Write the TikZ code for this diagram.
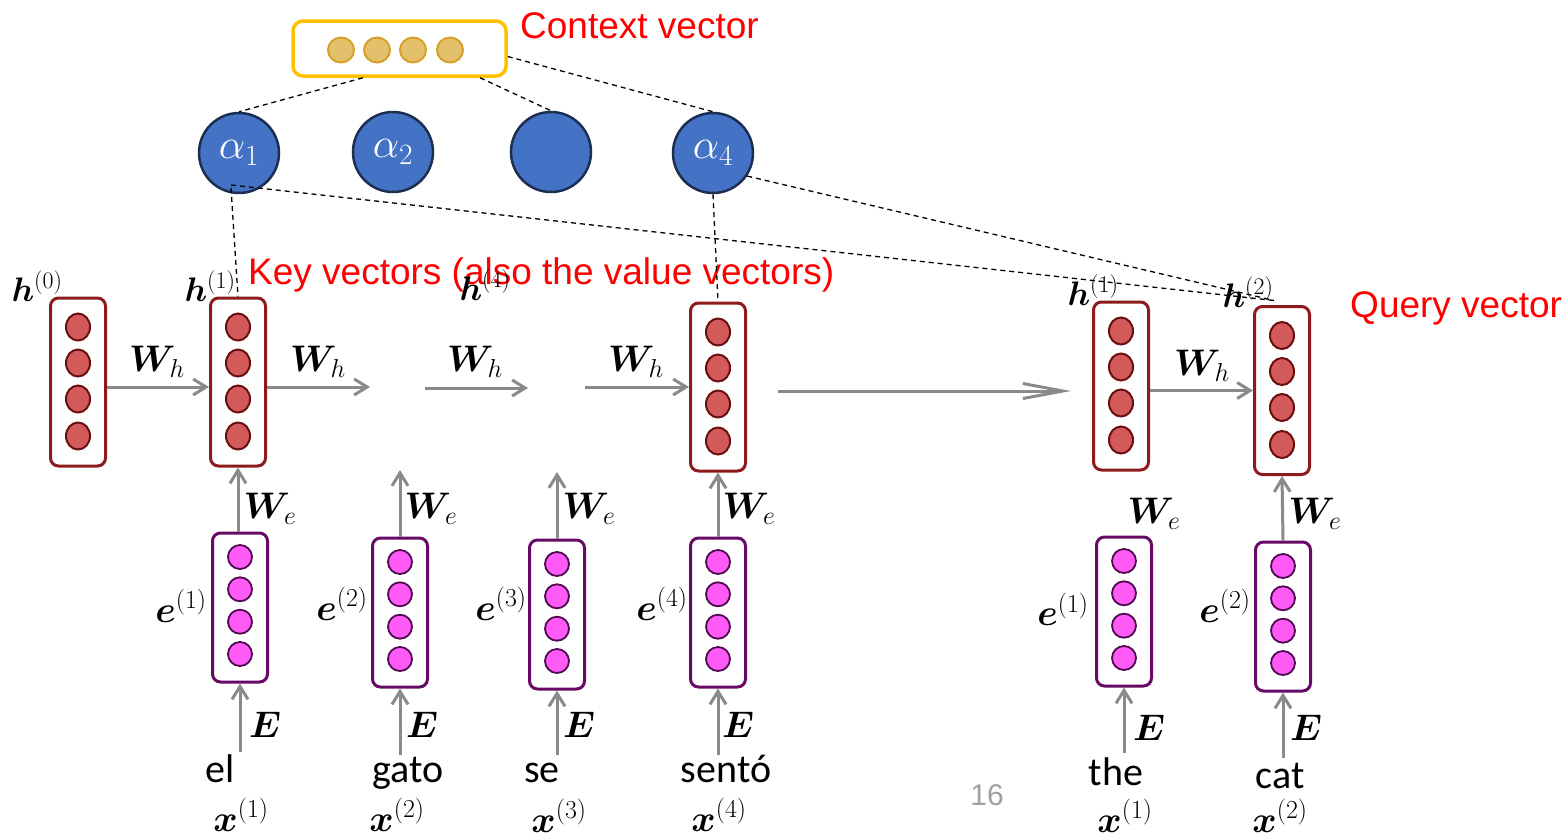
\documentclass[tikz,border=0pt]{standalone}
\usepackage{fix-cm}
\usepackage{bm}
\usepackage{fontspec}
\newfontfamily\labelfont{Liberation Sans}
\newfontfamily\wordfont{Carlito}
\usetikzlibrary{arrows.meta,shapes.geometric}

\definecolor{hedge}{HTML}{8C1C1C}
\definecolor{hfill}{HTML}{D35A5A}
\definecolor{hring}{HTML}{6A0E0E}
\definecolor{eedge}{HTML}{660A66}
\definecolor{efill}{HTML}{FF5AF5}
\definecolor{ering}{HTML}{4E0A4E}
\definecolor{ablue}{HTML}{4472C4}
\definecolor{aring}{HTML}{1C2E52}
\definecolor{cedge}{HTML}{FFC000}
\definecolor{cfill}{HTML}{E3C06C}
\definecolor{cring}{HTML}{D6A02A}
\definecolor{arrgray}{HTML}{8A8A8A}
\definecolor{pagegray}{HTML}{A0A0A0}

\tikzset{
  hbox/.style={rectangle, draw=hedge, fill=white, line width=3pt, rounded corners=8pt,
    minimum width=55pt, minimum height=168pt, inner sep=0pt},
  hdot/.style={ellipse, draw=hring, fill=hfill, line width=2pt,
    minimum width=24pt, minimum height=27pt, inner sep=0pt},
  ebox/.style={rectangle, draw=eedge, fill=white, line width=3pt, rounded corners=8pt,
    minimum width=55pt, minimum height=149pt, inner sep=0pt},
  edot/.style={circle, draw=ering, fill=efill, line width=1.8pt,
    minimum size=24pt, inner sep=0pt},
  attn/.style={circle, draw=aring, fill=ablue, line width=2.5pt, minimum size=80pt,
    inner sep=0pt, text=white, font=\fontsize{42}{48}\selectfont},
  ctxbox/.style={rectangle, draw=cedge, fill=white, line width=3.5pt, rounded corners=10pt,
    minimum width=213pt, minimum height=55pt, inner sep=0pt},
  cdot/.style={ellipse, draw=cring, fill=cfill, line width=2pt,
    minimum width=26pt, minimum height=25pt, inner sep=0pt},
  arr/.style={draw=arrgray, line width=3pt, -{Straight Barb[length=13pt,width=16pt]}},
  longarr/.style={draw=arrgray, line width=3pt, -{Straight Barb[length=40pt,width=15pt]}},
  dashlink/.style={draw=black, line width=1.3pt, dash pattern=on 5pt off 4pt},
  redlab/.style={text=red, font=\labelfont\fontsize{37}{42}\selectfont, inner sep=0pt},
  mlab/.style={font=\fontsize{37}{42}\selectfont, inner sep=0pt},
  hlab/.style={font=\fontsize{34}{40}\selectfont, inner sep=0pt},
  word/.style={font=\wordfont\fontsize{40}{46}\selectfont, inner sep=0pt, anchor=base},
}

\begin{document}
\begin{tikzpicture}[x=1pt,y=-1pt]
\useasboundingbox (0,0) rectangle (1568,839);

% context vector
\node[ctxbox] (ctx) at (399.5,48.5) {};
\foreach \k/\cx in {1/341,2/377,3/413,4/450}
  \node[cdot] (ctx-\k) at (\cx,50) {};
\node[redlab, anchor=base west] (ctxlab) at (520,38) {Context vector};

% attention weights
\node[attn] (a1) at (239,153) {$\alpha_1$};
\node[attn] (a2) at (393,152) {$\alpha_2$};
\node[attn] (a3) at (551,152) {};
\node[attn] (a4) at (713,153) {$\alpha_4$};

% hidden states
\foreach \nm/\cx/\cy in {h0/78/382, h1/238/382, h4/718/387, dh1/1121/386, dh2/1282/390.5}{
  \node[hbox] (\nm) at (\cx,\cy) {};
  \foreach \k/\off in {1/-55,2/-19,3/17,4/54}
    \node[hdot] (\nm-\k) at (\cx,\cy+\off) {};
}

% embeddings
\foreach \nm/\cx/\cy in {e1/240/607.5, e2/400/612.5, e3/557/614.5, e4/718/612.5, de1/1124/611.5, de2/1283/616.5}{
  \node[ebox] (\nm) at (\cx,\cy) {};
  \foreach \k/\off in {1/-50.5,2/-18.2,3/14.2,4/46.5}
    \node[edot] (\nm-\k) at (\cx,\cy+\off) {};
}

% annotations
\node[redlab, anchor=base west] (keylab) at (248,284) {Key vectors (also the value vectors)};
\node[redlab, anchor=base west] (qlab) at (1350,317) {Query vector};

% state labels
\node[hlab] (lh0) at (37,286) {$\bm{h}^{(0)}$};
\node[hlab] (lh1) at (210,286) {$\bm{h}^{(1)}$};
\node[hlab] (lh4) at (485,285) {$\bm{h}^{(4)}$};
\node[hlab] (ldh1) at (1093,290) {$\bm{h}^{(1)}$};
\node[hlab] (ldh2) at (1248,292) {$\bm{h}^{(2)}$};

% recurrent connections
\coordinate (gapA) at (370,387);
\coordinate (gapB) at (425,388);
\coordinate (gapC) at (528,388);
\coordinate (gapD) at (585,387);
\coordinate (gapE) at (778,391);
\draw[arr] ([yshift=-5pt]h0.east) -- ([yshift=-5pt]h1.west);
\draw[arr] ([yshift=-5pt]h1.east) -- (gapA);
\draw[arr] (gapB) -- (gapC);
\draw[arr] (gapD) -- (h4.west);
\draw[longarr] (gapE) -- ([xshift=-21pt,yshift=-5pt]dh1.west);
\draw[arr] (dh1.east |- dh2.west) -- (dh2.west);

\node[mlab] (wh1) at (157,362) {$\bm{W}_h$};
\node[mlab] (wh2) at (318,362) {$\bm{W}_h$};
\node[mlab] (wh3) at (475,362) {$\bm{W}_h$};
\node[mlab] (wh4) at (636,362) {$\bm{W}_h$};
\node[mlab] (wh5) at (1202,366) {$\bm{W}_h$};

% embedding to state
\coordinate (up2) at (400,470);
\coordinate (up3) at (557,472);
\draw[arr] (h1.south |- e1.north) -- (h1.south);
\draw[arr] (e2.north) -- (up2);
\draw[arr] (e3.north) -- (up3);
\draw[arr] (e4.north) -- (h4.south);
\draw[arr] (de2.north) -- (dh2.south);

\node[mlab] (we1) at (270,509) {$\bm{W}_e$};
\node[mlab] (we2) at (431,509) {$\bm{W}_e$};
\node[mlab] (we3) at (589,509) {$\bm{W}_e$};
\node[mlab] (we4) at (749,509) {$\bm{W}_e$};
\node[mlab] (we5) at (1154,514) {$\bm{W}_e$};
\node[mlab] (we6) at (1315,514) {$\bm{W}_e$};

\node[mlab] (le1) at (181,606) {$\bm{e}^{(1)}$};
\node[mlab] (le2) at (342,604) {$\bm{e}^{(2)}$};
\node[mlab] (le3) at (501,604) {$\bm{e}^{(3)}$};
\node[mlab] (le4) at (662,604) {$\bm{e}^{(4)}$};
\node[mlab] (lde1) at (1063,609) {$\bm{e}^{(1)}$};
\node[mlab] (lde2) at (1225,606) {$\bm{e}^{(2)}$};

% words and embedding lookups
\node[word] (w1) at (220,782) {el};
\node[word] (w2) at (408,782) {gato};
\node[word] (w3) at (542,782) {se};
\node[word] (w4) at (726,782) {sentó};
\node[word] (dw1) at (1116,785) {the};
\node[word] (dw2) at (1280,788) {cat};

\coordinate (s1) at (240,752);
\coordinate (s2) at (400,755);
\coordinate (s3) at (557,755);
\coordinate (s4) at (718,755);
\coordinate (ds1) at (1124,753);
\coordinate (ds2) at (1283,758);
\draw[arr] (s1) -- (e1.south);
\draw[arr] (s2) -- (e2.south);
\draw[arr] (s3) -- (e3.south);
\draw[arr] (s4) -- (e4.south);
\draw[arr] (ds1) -- (de1.south);
\draw[arr] (ds2) -- (de2.south);

\node[mlab] (E1) at (265,725) {$\bm{E}$};
\node[mlab] (E2) at (422,725) {$\bm{E}$};
\node[mlab] (E3) at (579,725) {$\bm{E}$};
\node[mlab] (E4) at (738,725) {$\bm{E}$};
\node[mlab] (dE1) at (1149,728) {$\bm{E}$};
\node[mlab] (dE2) at (1306,728) {$\bm{E}$};

\node[mlab, anchor=base] (x1) at (241,831) {$\bm{x}^{(1)}$};
\node[mlab, anchor=base] (x2) at (397,831) {$\bm{x}^{(2)}$};
\node[mlab, anchor=base] (x3) at (559,832) {$\bm{x}^{(3)}$};
\node[mlab, anchor=base] (x4) at (719,831) {$\bm{x}^{(4)}$};
\node[mlab, anchor=base] (dx1) at (1125,832) {$\bm{x}^{(1)}$};
\node[mlab, anchor=base] (dx2) at (1280,832) {$\bm{x}^{(2)}$};

\node[anchor=base, inner sep=0pt, text=pagegray, font=\labelfont\fontsize{30}{34}\selectfont] (pg) at (987,805) {16};

% attention links
\draw[dashlink] ([xshift=-36.5pt]ctx.south) -- (a1.north);
\draw[dashlink] ([xshift=80.5pt]ctx.south) -- (a3.north);
\draw[dashlink] ([yshift=-8pt]ctx.east) -- (a4.north);
\draw[dashlink] ([xshift=-8pt,yshift=-35pt]a1.center) -- (h1.north);
\draw[dashlink] (a4.south) -- (h4.north);
\draw[dashlink] ([xshift=-8pt,yshift=-32pt]a1.center) -- ([xshift=-8pt,yshift=4.5pt]dh2.north);
\draw[dashlink] (a4.-34) -- ([xshift=-8pt,yshift=4.5pt]dh2.north);
\end{tikzpicture}
\end{document}
